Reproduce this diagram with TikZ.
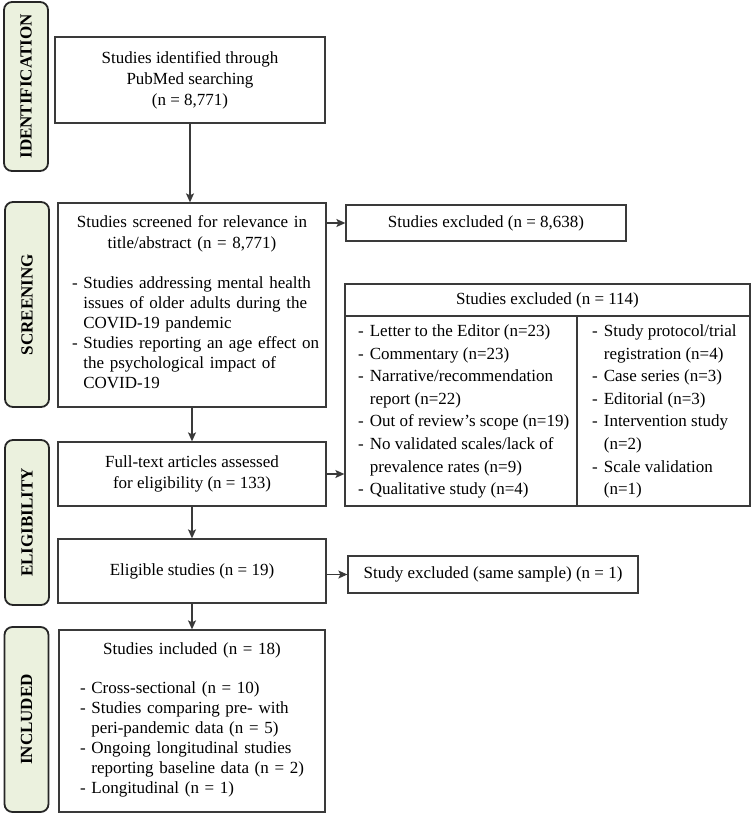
\documentclass[tikz,border=0pt]{standalone}
\usepackage{fontspec}
\setmainfont{Liberation Serif}
\usetikzlibrary{arrows.meta}
\definecolor{stagegreen}{HTML}{EBF1DE}
\definecolor{boxline}{HTML}{3A3A3A}

\begin{document}
\begin{tikzpicture}[x=1pt, y=-1pt, >={Stealth[length=9pt,width=8pt,inset=2pt]}]
\tikzstyle{stage} = [draw=black!85, line width=1.8pt, rounded corners=8pt, fill=stagegreen, rotate=90, minimum height=44pt, inner sep=0pt, font=\fontsize{17}{20}\selectfont\bfseries]
\tikzstyle{flowbox} = [draw=boxline, line width=1.3pt, fill=white, inner sep=0pt, align=center, font=\fontsize{17}{21}\selectfont]
\tikzstyle{listcol} = [anchor=west, inner sep=0pt, font=\fontsize{17}{22.6}\selectfont]
\useasboundingbox (0,0) rectangle (751,814);

% stages
\node[stage, minimum width=169pt] (sid) at (26,86.5) {IDENTIFICATION};
\node[stage, minimum width=205pt] (sscr) at (27,304.5) {SCREENING};
\node[stage, minimum width=165pt] (selg) at (27,522.5) {ELIGIBILITY};
\node[stage, minimum width=185pt] (sinc) at (26.5,719.5) {INCLUDED};

% main column
\node[flowbox, minimum width=270pt, minimum height=86pt] (id) at (190,80) {Studies identified through\\ PubMed searching\\ (n = 8,771)};
\node[flowbox, text width=240pt, minimum width=268pt, minimum height=204pt] (scr) at (192,305) {Studies screened for relevance in\\ title/abstract (n = 8,771)\par
  \vspace{21pt}\raggedright\noindent\fontsize{17}{20}\selectfont
  \begin{tabular}{@{}l@{\ }l@{}}
  - & Studies addressing mental health\\
    & issues of older adults during the\\
    & COVID-19 pandemic\\
  - & Studies reporting an age effect on\\
    & the psychological impact of\\
    & COVID-19
  \end{tabular}};
\node[flowbox, minimum width=268pt, minimum height=64pt] (ftx) at (192,474) {Full-text articles assessed\\ for eligibility (n = 133)};
\node[flowbox, minimum width=268pt, minimum height=64pt] (elg) at (192,571) {Eligible studies (n = 19)};
\node[flowbox, text width=238pt, minimum width=266pt, minimum height=182pt] (inc) at (192,721) {Studies included (n = 18)\par
  \vspace{21pt}\raggedright\noindent\fontsize{17}{20}\selectfont
  \begin{tabular}{@{}l@{\ }l@{}}
  - & Cross-sectional (n = 10)\\
  - & Studies comparing pre- with\\
    & peri-pandemic data (n = 5)\\
  - & Ongoing longitudinal studies\\
    & reporting baseline data (n = 2)\\
  - & Longitudinal (n = 1)
  \end{tabular}};

% exclusions
\node[flowbox, minimum width=280pt, minimum height=36pt] (ex1) at (486,223) {Studies excluded (n = 8,638)};
\node[flowbox, minimum width=405pt, minimum height=222pt] (ex2) at (547.5,395) {};
\node[font=\fontsize{17}{21}\selectfont] (ex2head) at (547.5,300) {Studies excluded (n = 114)};
\coordinate (split) at (577,316);
\draw[boxline, line width=1.3pt] (ex2.west |- split) -- (ex2.east |- split);
\draw[boxline, line width=1.3pt] (split) -- (split |- ex2.south);
\node[listcol] (ex2left) at (358,411) {\begin{tabular}{@{}l@{\hspace{6pt}}l@{}}
  - & Letter to the Editor (n=23)\\
  - & Commentary (n=23)\\
  - & Narrative/recommendation\\
    & report (n=22)\\
  - & Out of review’s scope (n=19)\\
  - & No validated scales/lack of\\
    & prevalence rates (n=9)\\
  - & Qualitative study (n=4)
  \end{tabular}};
\node[listcol] (ex2right) at (592,411) {\begin{tabular}{@{}l@{\hspace{6pt}}l@{}}
  - & Study protocol/trial\\
    & registration (n=4)\\
  - & Case series (n=3)\\
  - & Editorial (n=3)\\
  - & Intervention study\\
    & (n=2)\\
  - & Scale validation\\
    & (n=1)
  \end{tabular}};
\node[flowbox, minimum width=290pt, minimum height=37pt] (ex3) at (493,574.5) {Study excluded (same sample) (n = 1)};

% arrows
\foreach \from/\to in {id/scr, scr/ftx, ftx/elg, elg/inc}
\draw[->, line width=1.2pt, boxline] (\from.south) -- (\from.south |- \to.north);
\draw[->, line width=1.2pt, boxline] (scr.east |- ex1.west) -- (ex1.west);
\draw[->, line width=1.2pt, boxline] (ftx.east) -- (ftx.east -| ex2.west);
\draw[->, line width=1.2pt, boxline] (elg.east |- ex3.west) -- (ex3.west);
\end{tikzpicture}
\end{document}
